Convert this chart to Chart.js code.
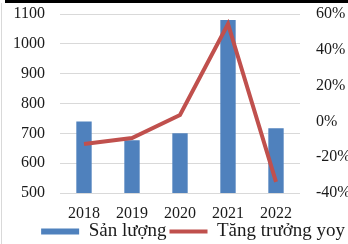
<!DOCTYPE html>
<html>
<head>
<meta charset="utf-8">
<script src="https://cdn.jsdelivr.net/npm/chart.js@4/dist/chart.umd.min.js"></script>
<style>
  html, body { margin: 0; padding: 0; background: #fff; }
  #wrap { position: relative; width: 348px; height: 244px; }
  #topline { position: absolute; left: 5px; right: 0; top: 0; height: 3px; background: #000; }
  #leftline { position: absolute; left: 1px; top: 3px; bottom: 0; width: 1px; background: #d9d9d9; }
</style>
</head>
<body>
<div id="wrap">
  <canvas id="chart" width="348" height="244"></canvas>
  <div id="topline"></div>
  <div id="leftline"></div>
</div>
<script>
const years = ['2018', '2019', '2020', '2021', '2022']
const output = [740, 677, 700, 1080, 717]
const growth = [-12.6, -9.3, 3.6, 54.4, -33.8]
const seriesNames = ['Sản lượng', 'Tăng trưởng yoy']

const serif = "'Liberation Serif', 'Times New Roman', serif"
const tickFont = { family: serif, size: 16 }
const legendFont = { family: serif, size: 19 }
const textColor = '#1a1a1a'

// fixed axis widths, and no extra vertical padding from the tick labels
const fixWidth = (w) => (s) => {
  s.width = w
  s.paddingTop = 0
  s.paddingBottom = 0
}

new Chart(document.getElementById('chart'), {
  type: 'bar',
  data: {
    labels: years,
    datasets: [
      {
        label: seriesNames[0],
        data: output,
        backgroundColor: '#4f81bd',
        borderWidth: 0,
        barPercentage: 0.32,
        categoryPercentage: 1,
        yAxisID: 'y',
        order: 1,
        pointStyle: 'rect',
      },
      {
        type: 'line',
        label: seriesNames[1],
        data: growth,
        borderColor: '#c0504d',
        backgroundColor: '#c0504d',
        borderWidth: 4,
        pointRadius: 0,
        tension: 0,
        yAxisID: 'y1',
        order: 0,
        pointStyle: 'line',
      },
    ],
  },
  options: {
    responsive: false,
    animation: false,
    layout: { padding: { left: 0, right: 0, top: 14, bottom: -7 } },
    plugins: {
      legend: {
        position: 'bottom',
        align: 'end',
        labels: {
          usePointStyle: true,
          pointStyleWidth: 38,
          boxHeight: 6,
          padding: 3,
          color: textColor,
          font: legendFont,
          sort: (a, b) => a.datasetIndex - b.datasetIndex,
        },
      },
      tooltip: { enabled: false },
    },
    scales: {
      x: {
        grid: { display: false, drawTicks: false },
        border: { display: false },
        ticks: { color: textColor, font: tickFont, padding: 11 },
        afterFit: (s) => { s.height = 26 },
      },
      y: {
        position: 'left',
        min: 500,
        max: 1100,
        ticks: { stepSize: 100, color: textColor, font: tickFont, padding: 15, callback: (v) => String(v) },
        grid: { color: '#d9d9d9', drawTicks: false },
        border: { display: false },
        afterFit: fixWidth(60),
      },
      y1: {
        position: 'right',
        min: -40,
        max: 60,
        ticks: { stepSize: 20, color: textColor, font: tickFont, padding: 16, callback: (v) => v + '%' },
        grid: { display: false, drawTicks: false },
        border: { display: false },
        afterFit: fixWidth(48),
      },
    },
  },
})
</script>
</body>
</html>
